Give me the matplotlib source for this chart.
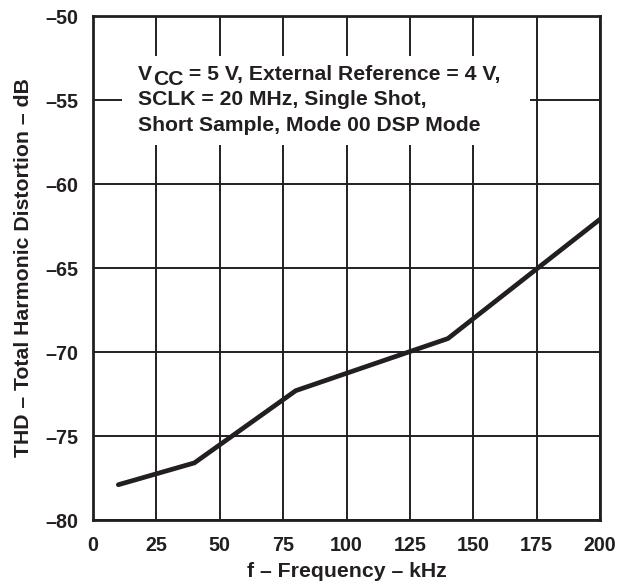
import matplotlib
matplotlib.use("Agg")
import matplotlib.pyplot as plt
from matplotlib.patches import Rectangle

plt.rcParams['font.family'] = ['Liberation Sans', 'DejaVu Sans']
plt.rcParams['font.weight'] = 'bold'

freq_khz = [10, 40, 80, 140, 200]
thd_db = [-77.9, -76.6, -72.3, -69.2, -62.1]
x_ticks = [0, 25, 50, 75, 100, 125, 150, 175, 200]
y_ticks = [-80, -75, -70, -65, -60, -55, -50]

INK = '#231f20'

fig = plt.figure(figsize=(6.18, 5.86), dpi=100)
ax = fig.add_axes([93/618, 1 - 520/586, (600-93)/618, (520-16)/586])
ax.set_xlim(0, 200)
ax.set_ylim(-80, -50)
ax.set_xticks(x_ticks)
ax.set_yticks(y_ticks)
ax.set_xticklabels([str(v) for v in x_ticks])
ax.set_yticklabels(['\u2013' + str(abs(v)) for v in y_ticks])
ax.tick_params(length=0, labelsize=14.2, colors=INK)
ax.tick_params(axis='x', pad=11.5)
ax.tick_params(axis='y', pad=10.5)
for lab in ax.get_xticklabels() + ax.get_yticklabels():
    lab.set_fontweight('bold')
ax.grid(True, color=INK, linewidth=1.4, zorder=1)
for s in ax.spines.values():
    s.set_linewidth(2.0)
    s.set_color(INK)
    s.set_zorder(5)

# white background behind annotation
ax.add_patch(Rectangle((11.5, -57.7), 161.0, 5.3, facecolor='white',
                       edgecolor='none', zorder=2))

ax.plot(freq_khz, thd_db, color=INK, linewidth=3.4, solid_capstyle='round',
        solid_joinstyle='miter', zorder=4)

ax.set_xlabel('f \u2013 Frequency \u2013 kHz', fontsize=15.3, fontweight='bold',
              color=INK, labelpad=5)
ax.set_ylabel('THD \u2013 Total Harmonic Distortion \u2013 dB', fontsize=15.3,
              fontweight='bold', color=INK, labelpad=9)

fs = 15.2
fig.canvas.draw()
r = fig.canvas.get_renderer()
H = 586
x0 = 138
t1 = fig.text(x0/618, 1 - 80/H, 'V', fontsize=fs, fontweight='bold',
              color=INK, va='baseline', ha='left')
bb = t1.get_window_extent(renderer=r)
t2 = fig.text(bb.x1/618 + 0.5/618, 1 - 85/H, 'CC', fontsize=fs,
              fontweight='bold', color=INK, va='baseline', ha='left')
bb2 = t2.get_window_extent(renderer=r)
fig.text(bb2.x1/618, 1 - 80/H, ' = 5 V, External Reference = 4 V,',
         fontsize=fs, fontweight='bold', color=INK, va='baseline', ha='left')
fig.text(x0/618, 1 - 105/H, 'SCLK = 20 MHz, Single Shot,', fontsize=fs,
         fontweight='bold', color=INK, va='baseline', ha='left')
fig.text(x0/618, 1 - 131/H, 'Short Sample, Mode 00 DSP Mode', fontsize=fs,
         fontweight='bold', color=INK, va='baseline', ha='left')

fig.savefig('out.png', dpi=100)
